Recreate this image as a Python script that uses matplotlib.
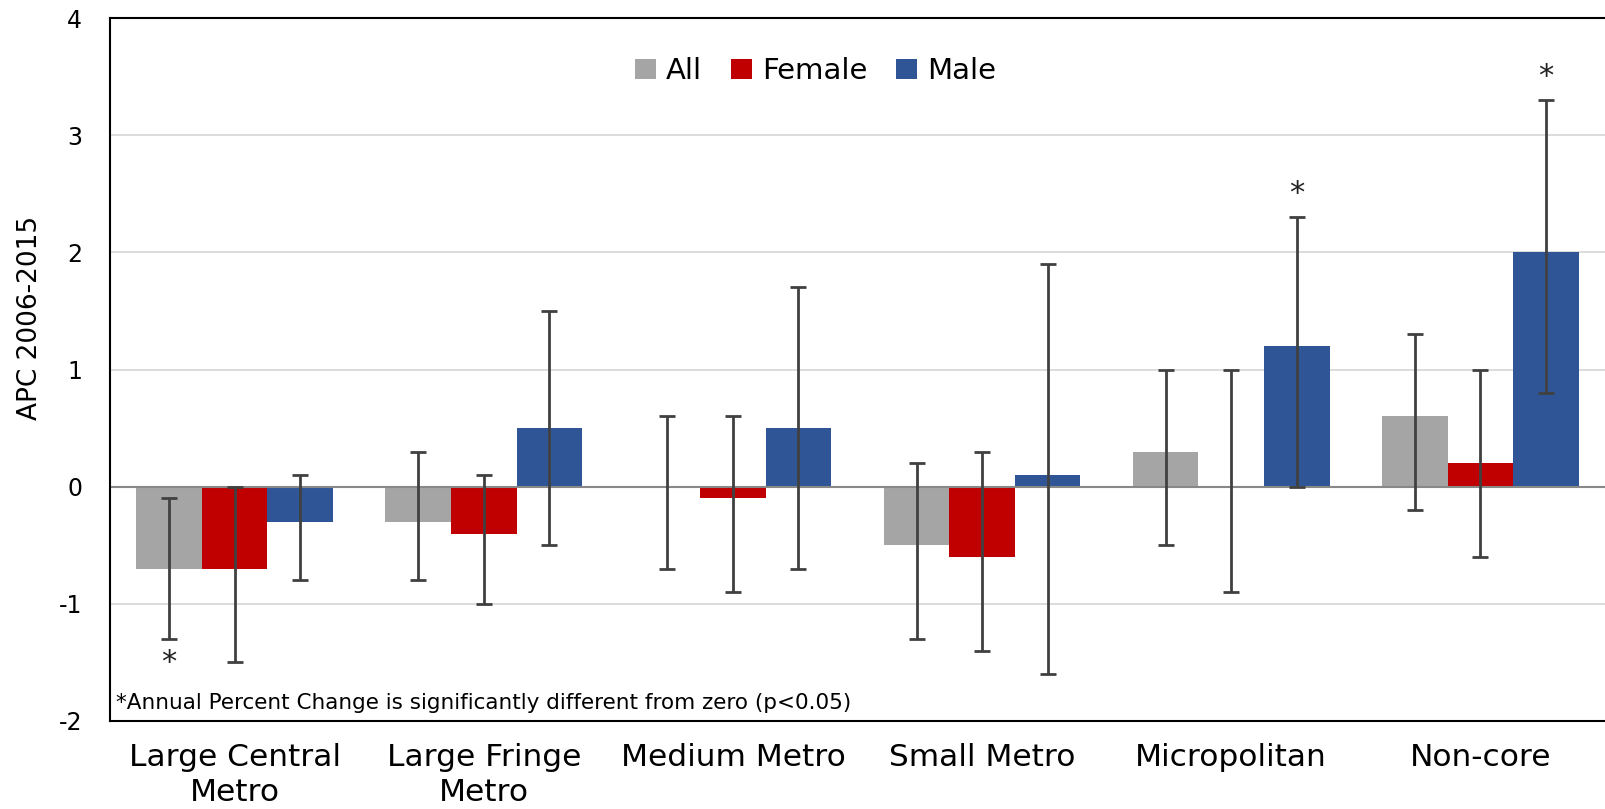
import matplotlib
matplotlib.use("Agg")
import matplotlib.pyplot as plt
import numpy as np

categories = ["Large Central\nMetro", "Large Fringe\nMetro", "Medium Metro",
              "Small Metro", "Micropolitan", "Non-core"]
series_names = ["All", "Female", "Male"]
all_vals = [-0.7, -0.3, 0.0, -0.5, 0.3, 0.6]
all_lo = [-1.3, -0.8, -0.7, -1.3, -0.5, -0.2]
all_hi = [-0.1, 0.3, 0.6, 0.2, 1.0, 1.3]
female_vals = [-0.7, -0.4, -0.1, -0.6, 0.0, 0.2]
female_lo = [-1.5, -1.0, -0.9, -1.4, -0.9, -0.6]
female_hi = [0.0, 0.1, 0.6, 0.3, 1.0, 1.0]
male_vals = [-0.3, 0.5, 0.5, 0.1, 1.2, 2.0]
male_lo = [-0.8, -0.5, -0.7, -1.6, 0.0, 0.8]
male_hi = [0.1, 1.5, 1.7, 1.9, 2.3, 3.3]
# significance: (series index, category index, 'below'/'above')
significant = [(0, 0, "below"), (2, 4, "above"), (2, 5, "above")]
yticks = [-2, -1, 0, 1, 2, 3, 4]
footnote = "*Annual Percent Change is significantly different from zero (p<0.05)"
ylabel = "APC 2006-2015"

colors = ["#A5A5A5", "#C00000", "#2F5597"]
vals = [all_vals, female_vals, male_vals]
los = [all_lo, female_lo, male_lo]
his = [all_hi, female_hi, male_hi]

fig = plt.figure(figsize=(16.06, 8.09), dpi=100)
ax = fig.add_axes([110/1606, 1 - 721/809, (1605-110)/1606, (721-18)/809])

x = np.arange(len(categories))
w = 0.263
for i in range(3):
    pos = x + (i - 1) * w
    v = np.array(vals[i])
    lo = np.array(los[i])
    hi = np.array(his[i])
    ax.bar(pos, v, width=w, color=colors[i], label=series_names[i], zorder=2)
    ax.errorbar(pos, v, yerr=[v - lo, hi - v], fmt="none", ecolor="#404040",
                elinewidth=2.0, capsize=6, capthick=2.0, zorder=3)

for si, ci, where in significant:
    px = x[ci] + (si - 1) * w
    if where == "below":
        py = los[si][ci] - 0.2
    else:
        py = his[si][ci] + 0.2
    ax.text(px, py, "*", ha="center", va="center", fontsize=22, color="#222222")

ax.set_xlim(-0.5, len(categories) - 0.5)
ax.set_ylim(-2, 4)
ax.set_yticks(yticks)
ax.set_yticklabels([str(t) for t in yticks], fontsize=17)
ax.set_xticks(x)
ax.set_xticklabels(categories, fontsize=22.5, linespacing=1.25)
ax.tick_params(axis="both", length=0)
ax.tick_params(axis="x", pad=16)
ax.tick_params(axis="y", pad=20)
for t in [-1, 1, 2, 3]:
    ax.axhline(t, color="#D9D9D9", lw=1.3, zorder=1)
ax.axhline(0, color="#888888", lw=1.5, zorder=2.5)
for s in ["top", "left", "bottom", "right"]:
    ax.spines[s].set_color("black")
    ax.spines[s].set_linewidth(1.5)
ax.spines["right"].set_visible(False)

ax.set_ylabel(ylabel, fontsize=19)
ax.yaxis.set_label_coords(-0.045, 0.574)

leg = ax.legend(loc="center", bbox_to_anchor=(0.472, 0.924), ncol=3, frameon=False,
                fontsize=21, handlelength=0.7, handleheight=0.7,
                handletextpad=0.35, columnspacing=1.0)

ax.text(0.004, 0.026, footnote, transform=ax.transAxes, ha="left", va="center",
        fontsize=15.5, color="black")

fig.savefig("out.png", dpi=100)
